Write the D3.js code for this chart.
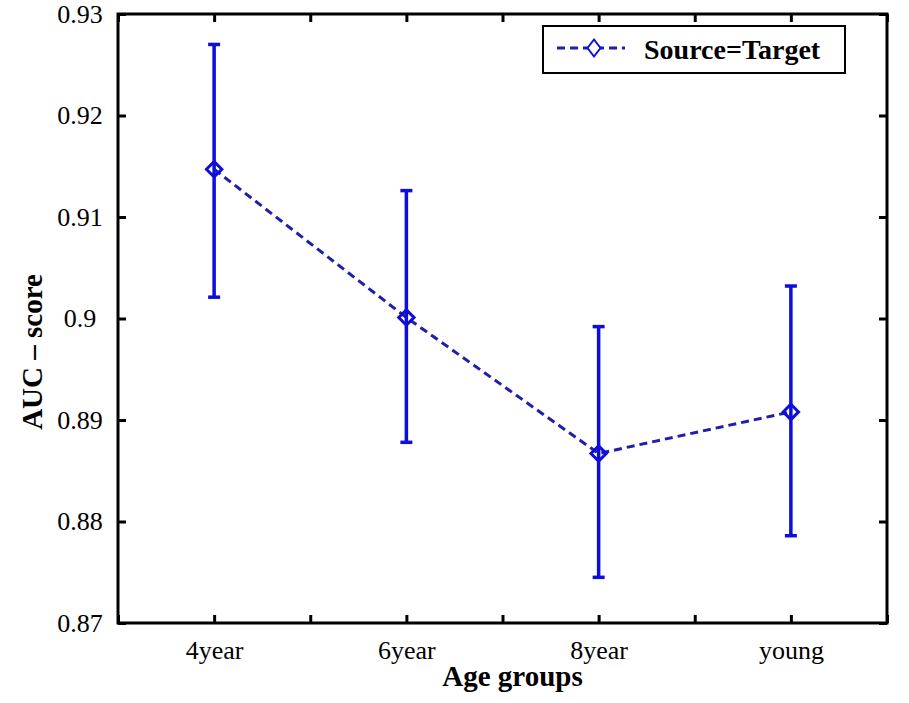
<!DOCTYPE html>
<html>
<head>
<meta charset="utf-8">
<script src="https://cdn.jsdelivr.net/npm/d3@7"></script>
<style>
  body { margin: 0; background: #fff; }
  text { font-family: "Liberation Serif", "Times New Roman", serif; }
</style>
</head>
<body>
<script>
const WIDTH = 909;
const HEIGHT = 703;
const LEFT = 118, RIGHT = 887, TOP = 14, BOTTOM = 623;

// data
const categories = ["4year", "6year", "8year", "young"];
const auc        = [0.9147, 0.9001, 0.8867, 0.8908];
const aucUpper   = [0.9270, 0.9126, 0.8992, 0.9032];
const aucLower   = [0.9021, 0.8878, 0.8745, 0.8786];
const yTicks     = [0.87, 0.88, 0.89, 0.9, 0.91, 0.92, 0.93];
const xTicks     = [0.5, 1, 1.5, 2, 2.5, 3, 3.5, 4, 4.5];
const seriesName = "Source=Target";

const BAR_BLUE  = "#0d0ddc";
const LINE_BLUE = "#1f1fa8";

const svg = d3.select("body").append("svg")
    .attr("width", WIDTH)
    .attr("height", HEIGHT);

const xScale = d3.scaleLinear().domain([0.5, 4.5]).range([LEFT, RIGHT]);
const yScale = d3.scaleLinear().domain([0.87, 0.93]).range([BOTTOM, TOP]);

// axes - ticks point inwards, on all four sides
const xAxis = d3.axisBottom(xScale)
    .tickValues(xTicks)
    .tickSizeInner(-8).tickSizeOuter(0)
    .tickFormat(d => Number.isInteger(d) ? categories[d - 1] : "");
const xAxisTop = d3.axisTop(xScale)
    .tickValues(xTicks).tickSizeInner(-8).tickSizeOuter(0).tickFormat("");
const yAxis = d3.axisLeft(yScale)
    .tickValues(yTicks)
    .tickSizeInner(-8).tickSizeOuter(0)
    .tickFormat(d => String(+d.toFixed(2)));
const yAxisRight = d3.axisRight(yScale)
    .tickValues(yTicks).tickSizeInner(-8).tickSizeOuter(0).tickFormat("");

const gx = svg.append("g").attr("transform", `translate(0,${BOTTOM})`).call(xAxis);
svg.append("g").attr("transform", `translate(0,${TOP})`).call(xAxisTop);
const gy = svg.append("g").attr("transform", `translate(${LEFT},0)`).call(yAxis);
svg.append("g").attr("transform", `translate(${RIGHT},0)`).call(yAxisRight);

svg.selectAll(".domain").remove();
svg.selectAll(".tick line").attr("stroke", "#000").attr("stroke-width", 3);

gx.selectAll(".tick text")
    .attr("y", 18)
    .attr("dy", "0.71em")
    .style("font-size", "26px")
    .attr("fill", "#000");

gy.selectAll(".tick text")
    .attr("x", -38)
    .attr("text-anchor", "middle")
    .attr("dy", "0.32em")
    .style("font-size", "26px")
    .attr("fill", "#000");

// frame
svg.append("rect")
    .attr("x", LEFT).attr("y", TOP)
    .attr("width", RIGHT - LEFT).attr("height", BOTTOM - TOP)
    .attr("fill", "none").attr("stroke", "#000").attr("stroke-width", 3);

// error bars
const idx = d3.range(categories.length);
const CAP = 6;
const bars = svg.append("g").attr("stroke", BAR_BLUE).attr("stroke-width", 3.5);
bars.selectAll(".err").data(idx).enter().append("line")
    .attr("x1", i => xScale(i + 1)).attr("x2", i => xScale(i + 1))
    .attr("y1", i => yScale(aucUpper[i])).attr("y2", i => yScale(aucLower[i]));
bars.selectAll(".capTop").data(idx).enter().append("line")
    .attr("x1", i => xScale(i + 1) - CAP).attr("x2", i => xScale(i + 1) + CAP)
    .attr("y1", i => yScale(aucUpper[i])).attr("y2", i => yScale(aucUpper[i]));
bars.selectAll(".capBot").data(idx).enter().append("line")
    .attr("x1", i => xScale(i + 1) - CAP).attr("x2", i => xScale(i + 1) + CAP)
    .attr("y1", i => yScale(aucLower[i])).attr("y2", i => yScale(aucLower[i]));

// dashed mean line
const line = d3.line().x(i => xScale(i + 1)).y(i => yScale(auc[i]));
svg.append("path")
    .datum(idx)
    .attr("d", line)
    .attr("fill", "none")
    .attr("stroke", LINE_BLUE)
    .attr("stroke-width", 3)
    .attr("stroke-dasharray", "8,5");

// diamond markers
const diamond = d3.symbol().type(d3.symbolDiamond2).size(150);
svg.selectAll(".marker").data(idx).enter().append("path")
    .attr("d", diamond)
    .attr("transform", i => `translate(${xScale(i + 1)},${yScale(auc[i])})`)
    .attr("fill", "none")
    .attr("stroke", BAR_BLUE)
    .attr("stroke-width", 3);

// axis titles
svg.append("text")
    .attr("x", (LEFT + RIGHT) / 2 + 10)
    .attr("y", 686)
    .attr("text-anchor", "middle")
    .style("font-size", "29px")
    .style("font-weight", "bold")
    .text("Age groups");

svg.append("text")
    .attr("transform", "translate(42,352) rotate(-90)")
    .attr("text-anchor", "middle")
    .style("font-size", "29px")
    .style("font-weight", "bold")
    .text("AUC \u2013 score");

// legend
const legend = svg.append("g");
legend.append("rect")
    .attr("x", 543).attr("y", 26).attr("width", 302).attr("height", 47)
    .attr("fill", "#fff").attr("stroke", "#000").attr("stroke-width", 2);
legend.append("line")
    .attr("x1", 557).attr("x2", 625).attr("y1", 48).attr("y2", 48)
    .attr("stroke", LINE_BLUE).attr("stroke-width", 3)
    .attr("stroke-dasharray", "8,5");
legend.append("path")
    .attr("d", diamond)
    .attr("transform", "translate(594,48) scale(0.85,1.1)")
    .attr("fill", "#fff").attr("stroke", BAR_BLUE).attr("stroke-width", 2);
legend.append("text")
    .attr("x", 644).attr("y", 59)
    .style("font-size", "28px")
    .style("font-weight", "bold")
    .text(seriesName);
</script>
</body>
</html>
